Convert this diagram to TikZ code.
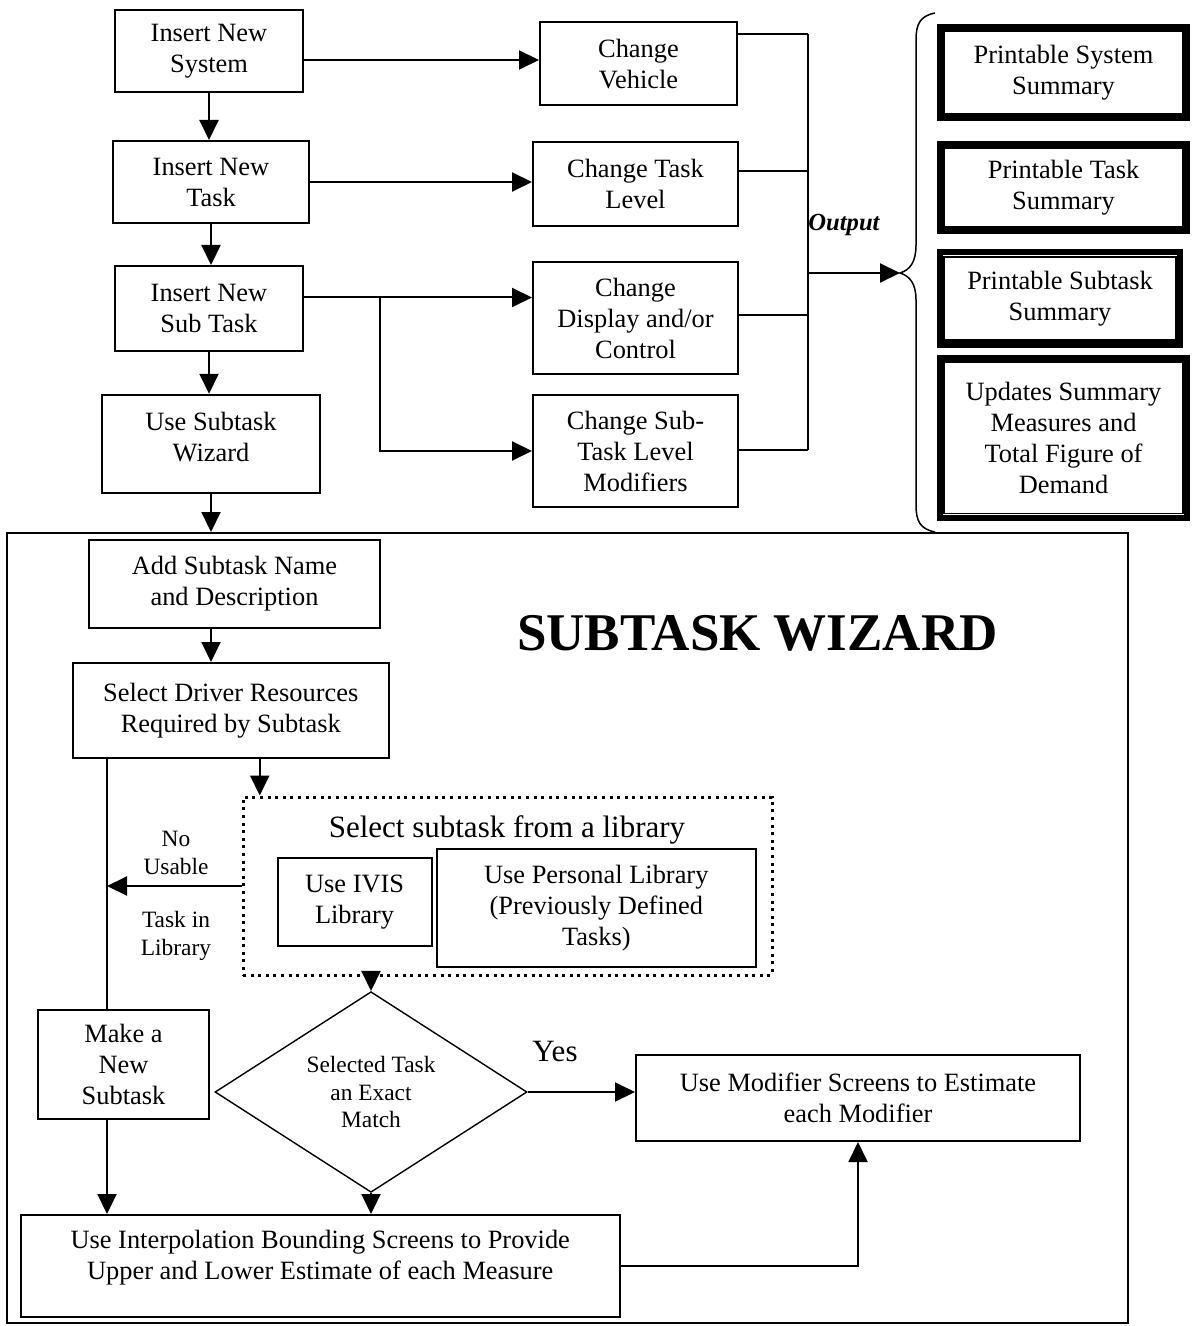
\documentclass[tikz,border=0pt]{standalone}
\usepackage{fontspec}
\setmainfont{Liberation Serif}
\usetikzlibrary{shapes.geometric,arrows.meta}

\begin{document}
\begin{tikzpicture}[x=0.5pt,y=-0.5pt]
	\tikzstyle{every node}=[font=\fontsize{13.2}{15.5}\selectfont]
	\tikzstyle{box}=[draw,line width=1pt,align=center,inner sep=1pt]
	\tikzstyle{sumbox}=[draw,line width=3pt,align=center,inner sep=1pt]
	\tikzstyle{wire}=[line width=1pt]
	\tikzstyle{arr}=[line width=1pt,-{Triangle[length=10pt,width=9.5pt]}]
	\tikzstyle{lbl}=[align=center,font=\fontsize{11.7}{13.8}\selectfont]
	\tikzset{sz/.style 2 args={minimum width=#1*0.5pt,minimum height=#2*0.5pt}}

	\useasboundingbox (0,0) rectangle (1192,1326);

	\node[box,sz={188}{81.5}] (NS) at (209,51) {Insert New\\System};
	\node[box,sz={196}{82}] (NT) at (211,182) {Insert New\\Task};
	\node[box,sz={188}{85}] (NB) at (209,308.5) {Insert New\\Sub Task};
	\node[box,sz={218}{98.5}] (NW) at (211,444) {Use Subtask\\Wizard\\[-8pt]\mbox{}};

	\node[box,sz={197}{83}] (CV) at (638.5,64) {Change\\Vehicle};
	\node[box,sz={205}{83.5}] (CT) at (635.5,184) {Change Task\\Level};
	\node[box,sz={205}{112}] (CD) at (635.5,318) {Change\\Display and/or\\Control};
	\node[box,sz={205}{112.5}] (CS) at (635.5,451) {Change Sub-\\Task Level\\Modifiers};

	\node[font=\bfseries\itshape\fontsize{12.3}{14}\selectfont] (OUT) at (844,225) {Output};

	\node[sumbox,sz={247}{91.5}] (PS) at (1063.5,72.75) {Printable System\\Summary};
	\node[sumbox,sz={247}{87}] (PT) at (1063.5,187.5) {Printable Task\\Summary};
	\node[sumbox,sz={240}{92}] (PB) at (1060,298.5) {Printable Subtask\\Summary};
	\node[sumbox,sz={247}{159.6}] (PU) at (1063.5,437.8) {Updates Summary\\Measures and\\Total Figure of\\Demand};

	\node[draw,line width=1pt,sz={1121}{790}] (SW) at (567.5,928) {};
	\node[font=\bfseries\fontsize{26.5}{30}\selectfont] (TW) at (757.5,633) {SUBTASK WIZARD};

	\node[box,sz={291}{88}] (AS) at (234.5,584) {Add Subtask Name\\and Description};
	\node[box,sz={315.5}{95}] (SD) at (230.75,710.5) {Select Driver Resources\\Required by Subtask};

	\node[draw,line width=1.5pt,dash pattern=on 1.5pt off 2.3pt,sz={529}{178}] (LIB) at (507.5,886) {};
	\node[font=\fontsize{15.5}{18}\selectfont] (LT) at (507,830) {Select subtask from a library};
	\node[box,sz={154}{88}] (IV) at (354.6,902) {Use IVIS\\Library};
	\node[box,sz={318.6}{118}] (PL) at (596.3,908) {Use Personal Library\\(Previously Defined\\Tasks)};

	\node[lbl] (NU) at (176,853) {No\\Usable};
	\node[lbl] (TL) at (176,936) {Task in\\Library};

	\node[box,sz={171}{109}] (MN) at (123.5,1064.5) {Make a\\New\\Subtask};
	\node[draw,diamond,line width=0.7pt,inner sep=0pt,sz={312}{181},lbl] (D) at (371,1092) {Selected Task\\an Exact\\Match};
	\node[font=\fontsize{15.5}{18}\selectfont] (Y) at (555,1051) {Yes};
	\node[box,sz={444}{86}] (UM) at (858,1098) {Use Modifier Screens to Estimate\\each Modifier};
	\node[box,sz={599.5}{102}] (UI) at (320.25,1266) {Use Interpolation Bounding Screens to Provide\\Upper and Lower Estimate of each Measure\\[-4pt]\mbox{}};

	\coordinate (b1) at (808,34);
	\coordinate (b2) at (808,171);
	\coordinate (b3) at (808,315);
	\coordinate (b4) at (808,450);
	\coordinate (tip) at (900,273);
	\coordinate (split) at (380,297.5);
	\coordinate (nu) at (107,890);

	\draw[arr] (NS.south) -- (NS.south |- NT.north);
	\draw[arr] (NT.south) -- (NT.south |- NB.north);
	\draw[arr] (NB.south) -- (NB.south |- NW.north);
	\draw[arr] (NW.south) -- (NW.south |- SW.north);

	\draw[arr] ([yshift=-4.5pt]NS.east) -- ([yshift=-4.5pt]NS.east -| CV.west);
	\draw[arr] (NT.east) -- (NT.east -| CT.west);
	\draw[arr] (NB.east |- split) -- (split -| CD.west);
	\draw[arr] (split) |- (CS.west);

	\draw[wire] (CV.east |- b1) -- (b1);
	\draw[wire] (CT.east |- b2) -- (b2);
	\draw[wire] (CD.east |- b3) -- (b3);
	\draw[wire] (CS.east |- b4) -- (b4);
	\draw[wire] (b1) -- (b4);
	\draw[arr] (tip -| b1) -- (tip);

	\draw[line width=0.75pt] (935,13) .. controls (920,16) and (916,24) .. (916,40) -- (916,245)
		.. controls (916,262) and (910,270) .. (tip)
		.. controls (910,276) and (916,284) .. (916,300) -- (916,505)
		.. controls (916,521) and (920,529) .. (935,532);

	\draw[line width=0.9pt] ([shift={(3.6pt,-3.6pt)}]PS.north west) rectangle ([shift={(-3.6pt,3.6pt)}]PS.south east);
	\draw[line width=0.9pt] ([shift={(3.6pt,-3.6pt)}]PT.north west) rectangle ([shift={(-3.6pt,3.6pt)}]PT.south east);
	\draw[line width=0.9pt] ([shift={(3.6pt,-3.6pt)}]PB.north west) rectangle ([shift={(-3.6pt,3.6pt)}]PB.south east);
	\draw[line width=0.9pt] ([shift={(3.6pt,-3.6pt)}]PU.north west) rectangle ([shift={(-3.6pt,3.6pt)}]PU.south east);

	\draw[arr] (AS.south -| NW.south) -- (SD.north -| NW.south);
	\draw[arr] ([xshift=14.5pt]SD.south) -- ([xshift=14.5pt]SD.south |- LIB.north);
	\draw[wire] (SD.south -| nu) -- (MN.north -| nu);
	\draw[arr] (LIB.west) -- (LIB.west -| nu);
	\draw[arr] (LIB.south -| D.north) -- (D.north);
	\draw[arr] (D.east) -- (D.east -| UM.west);
	\draw[arr] (D.south) -- (D.south |- UI.north);
	\draw[arr] (MN.south -| nu) -- (UI.north -| nu);
	\draw[arr] (UI.east) -| (UM.south);
\end{tikzpicture}
\end{document}
